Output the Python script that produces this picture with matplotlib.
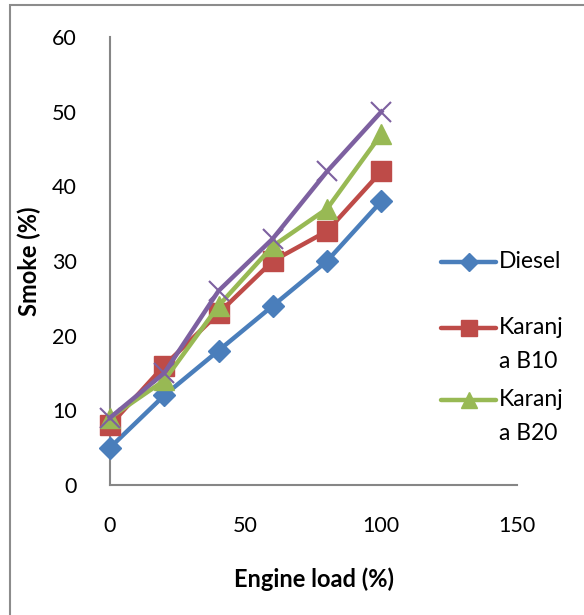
import matplotlib
matplotlib.use("Agg")
import matplotlib.pyplot as plt
from matplotlib.lines import Line2D
from matplotlib.patches import Rectangle

load = [0, 20, 40, 60, 80, 100]
diesel = [5, 12, 18, 24, 30, 38]
karanja_b10 = [8, 16, 23, 30, 34, 42]
karanja_b20 = [9, 14, 24, 32, 37, 47]
karanja_b30 = [9, 15, 26, 33, 42, 50]

x_ticks = [0, 50, 100, 150]
y_ticks = [0, 10, 20, 30, 40, 50, 60]

plt.rcParams['font.family'] = ['Lato', 'DejaVu Sans']

W, H = 584, 615
fig = plt.figure(figsize=(W/100, H/100), dpi=100)
ax = fig.add_axes([110/W, 1-485/H, (517-110)/W, (485-37)/H])

c_blue = '#4A7EBB'
c_red = '#BE4B48'
c_green = '#98B954'
c_purple = '#7D60A0'

ax.plot(load, diesel, color=c_blue, lw=3.2, marker='D', ms=11.5, zorder=3, clip_on=False)
ax.plot(load, karanja_b10, color=c_red, lw=3.2, marker='s', ms=14, zorder=4, clip_on=False)
ax.plot(load, karanja_b20, color=c_green, lw=3.2, marker='^', ms=15, zorder=5, clip_on=False)
ax.plot(load, karanja_b30, color=c_purple, lw=3.2, marker='x', ms=14, mew=1.5, zorder=6, clip_on=False)

ax.set_xlim(0, 150)
ax.set_ylim(0, 60)
ax.set_xticks(x_ticks)
ax.set_yticks(y_ticks)
ax.tick_params(length=0, labelsize=15.5, colors='black')
ax.tick_params(axis='y', pad=24)
ax.tick_params(axis='x', pad=22)
for s in ['top', 'right']:
    ax.spines[s].set_visible(False)
for s in ['left', 'bottom']:
    ax.spines[s].set_color('#868686')
    ax.spines[s].set_linewidth(1.5)

ax.set_xlabel('Engine load (%)', fontsize=17, fontweight='bold', labelpad=23)
ax.set_ylabel('Smoke (%)', fontsize=17, fontweight='bold', labelpad=8)

# outer chart border
fig.patches.append(Rectangle((10/W, -0.1), 1.2, 1-5/H+0.1, transform=fig.transFigure,
                             fill=False, edgecolor='#8C8C8C', lw=1.5))

# legend (manual, Excel-like)
entries = [(c_blue, 'D', 9.5, 262, ['Diesel']),
           (c_red, 's', 11.5, 328, ['Karanj', 'a B10']),
           (c_green, '^', 12, 400, ['Karanj', 'a B20'])]
for col, mk, ms, yy, lines in entries:
    yf = 1 - yy/H
    fig.add_artist(Line2D([441/W, 496/W], [yf, yf], transform=fig.transFigure,
                          color=col, lw=3.2, solid_capstyle='round'))
    fig.add_artist(Line2D([468.5/W], [yf], transform=fig.transFigure,
                          color=col, marker=mk, ms=ms, lw=0))
    for i, t in enumerate(lines):
        fig.text(499/W, 1 - (yy + 34*i)/H, t, fontsize=16.5, va='center', ha='left')

fig.savefig('out.png', dpi=100)
